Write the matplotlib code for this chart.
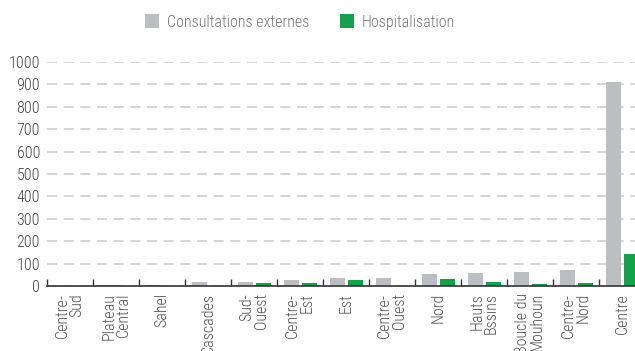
import matplotlib
matplotlib.use("Agg")
import matplotlib.pyplot as plt
import numpy as np
from matplotlib.patches import Patch
from matplotlib.ticker import FixedLocator

plt.rcParams['font.family'] = ['Roboto Condensed', 'Liberation Sans Narrow', 'Roboto', 'DejaVu Sans']
plt.rcParams['font.weight'] = 'light'

regions = ["Centre-\nSud", "Plateau\nCentral", "Sahel", "Cascades", "Sud-\nOuest",
           "Centre-\nEst", "Est", "Centre-\nOuest", "Nord", "Hauts\nBssins",
           "Boucle du\nMouhoun", "Centre-\nNord", "Centre"]
consultations = [0, 5, 5, 18, 18, 25, 37, 37, 52, 56, 61, 70, 910]
hospitalisation = [0, 0, 0, 0, 12, 12, 28, 0, 32, 19, 10, 15, 144]

grey = "#bdbec1"
green = "#17a04b"

fig = plt.figure(figsize=(6.35, 3.51), dpi=100)
ax = fig.add_axes([47 / 635, 65 / 351, 598 / 635, 224 / 351])

x = np.arange(len(regions))
w = 0.33
ax.bar(x - 0.19, consultations, width=w, color=grey, zorder=3)
ax.bar(x + 0.2, hospitalisation, width=w, color=green, zorder=3)

ax.set_xlim(-0.5, len(regions) - 0.5)
ax.set_ylim(0, 1000)
ax.set_yticks(np.arange(0, 1001, 100))
ax.tick_params(axis='y', length=0, pad=5, labelsize=11.5, labelcolor="#444444")
ax.yaxis.grid(True, color="#cfcfcf", linestyle=(0, (6, 4)), linewidth=1.2, zorder=0)

ax.set_xticks(x)
ax.set_xticklabels(regions, rotation=90, va='top', ha='center',
                   multialignment='right', fontsize=11.5, color="#555555",
                   linespacing=0.95)
ax.tick_params(axis='x', which='major', length=0, pad=5)
ax.xaxis.set_minor_locator(FixedLocator(np.arange(-0.5, len(regions), 1.0)))
ax.tick_params(axis='x', which='minor', direction='in', length=5, width=1, color="#333333")

for s in ['top', 'right', 'left']:
    ax.spines[s].set_visible(False)
ax.spines['bottom'].set_color("#333333")
ax.spines['bottom'].set_linewidth(1.2)
ax.spines['bottom'].set_zorder(4)

handles = [Patch(facecolor=grey, label="Consultations externes"),
           Patch(facecolor=green, label="Hospitalisation")]
fig.legend(handles=handles, loc='upper center', bbox_to_anchor=(300 / 635, 1.0),
           ncol=2, frameon=False, fontsize=11.5, handlelength=0.9, handleheight=0.9,
           handletextpad=0.5, columnspacing=1.9, labelcolor="#777777")

fig.savefig("out.png", dpi=100)
